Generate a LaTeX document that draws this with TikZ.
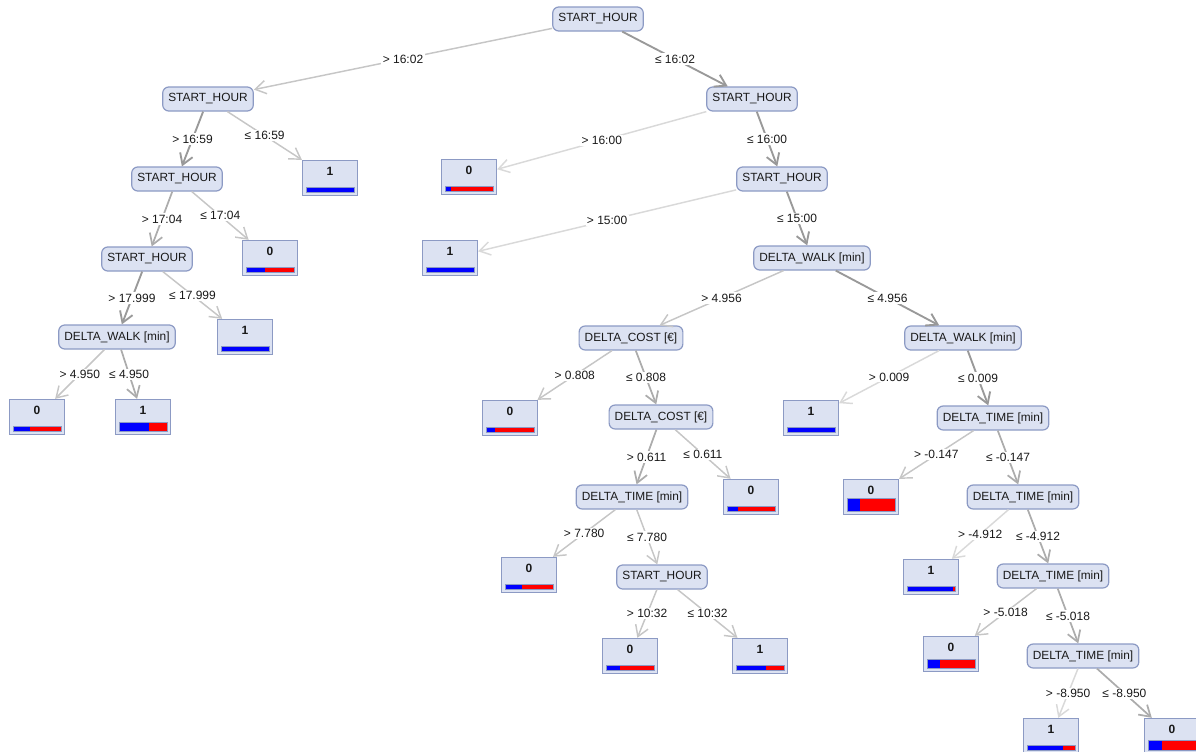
\documentclass[tikz,border=0pt]{standalone}
\usepackage{fontspec}
\setmainfont{Liberation Sans}
\usetikzlibrary{arrows.meta}
\definecolor{boxfill}{RGB}{220,226,242}
\definecolor{boxline}{RGB}{140,154,196}

\begin{document}
\begin{tikzpicture}[x=0.75pt, y=-0.75pt,
   split/.style={draw=boxline, fill=boxfill, rounded corners=4.5pt, line width=0.9pt,
      minimum height=18pt, inner xsep=4.2pt, text=black!90, font=\fontsize{8.9}{10}\selectfont},
   leaf/.style={draw=boxline, fill=boxfill, line width=1pt, minimum width=41.25pt,
      minimum height=26.25pt, text depth=10.5pt, text=black!90, font=\fontsize{9}{10}\selectfont\bfseries},
   bar/.style 2 args={path picture={
      \fill[red] ([shift={(2.6pt,2.4pt)}]path picture bounding box.south west) rectangle ++(36pt,#2);
      \fill[blue] ([shift={(2.6pt,2.4pt)}]path picture bounding box.south west) rectangle ++(#1*36pt,#2);
      \draw[line width=0.6pt] ([shift={(2.6pt,2.4pt)}]path picture bounding box.south west) rectangle ++(36pt,#2);}},
   elab/.style={fill=white, inner sep=1pt, text=black!90, font=\fontsize{9}{10}\selectfont},
   faint/.style={draw=gray!30, line width=1.1pt, -{Straight Barb[length=8pt,width=10pt]}},
   light/.style={draw=gray!45, line width=1.1pt, -{Straight Barb[length=8pt,width=10pt]}},
   mid/.style={draw=gray!65, line width=1.3pt, -{Straight Barb[length=8pt,width=10pt]}},
   dark/.style={draw=gray!80, line width=1.4pt, -{Straight Barb[length=8pt,width=10pt]}}]
   \useasboundingbox (0,0) rectangle (1196,751);

   % split nodes
   \node (s0) at (598,19) [split] {START\_HOUR};
   \node (s1) at (208,99) [split] {START\_HOUR};
   \node (s2) at (752,99) [split] {START\_HOUR};
   \node (s3) at (177,179) [split] {START\_HOUR};
   \node (s4) at (782,179) [split] {START\_HOUR};
   \node (s5) at (147,259) [split] {START\_HOUR};
   \node (s6) at (812,258) [split] {DELTA\_WALK [min]};
   \node (s7) at (117,337) [split] {DELTA\_WALK [min]};
   \node (s8) at (631,338) [split] {DELTA\_COST [€]};
   \node (s9) at (963,338) [split] {DELTA\_WALK [min]};
   \node (s10) at (661,417) [split] {DELTA\_COST [€]};
   \node (s11) at (993,418) [split] {DELTA\_TIME [min]};
   \node (s12) at (632,497) [split] {DELTA\_TIME [min]};
   \node (s13) at (1023,497) [split] {DELTA\_TIME [min]};
   \node (s14) at (662,577) [split] {START\_HOUR};
   \node (s15) at (1053,576) [split] {DELTA\_TIME [min]};
   \node (s16) at (1083,656) [split] {DELTA\_TIME [min]};

   % leaves
   \node (c1) at (330,178) [leaf, bar={1}{4pt}] {1};
   \node (c2) at (469,177) [leaf, bar={0.13}{4pt}] {0};
   \node (c3) at (270,258) [leaf, bar={0.40}{4pt}] {0};
   \node (c4) at (450,258) [leaf, bar={1}{4pt}] {1};
   \node (c5) at (245,337) [leaf, bar={1}{4pt}] {1};
   \node (c6) at (37,417) [leaf, bar={0.35}{4pt}] {0};
   \node (c7) at (143,417) [leaf, bar={0.63}{7pt}] {1};
   \node (c8) at (510,418) [leaf, bar={0.19}{4pt}] {0};
   \node (c9) at (811,418) [leaf, bar={1}{4pt}] {1};
   \node (c10) at (751,497) [leaf, bar={0.24}{4pt}] {0};
   \node (c11) at (871,497) [leaf, bar={0.27}{9.5pt}] {0};
   \node (c12) at (529,575) [leaf, bar={0.36}{4pt}] {0};
   \node (c13) at (931,577) [leaf, bar={0.96}{4pt}] {1};
   \node (c14) at (630,656) [leaf, bar={0.29}{4pt}] {0};
   \node (c15) at (760,656) [leaf, bar={0.63}{4pt}] {1};
   \node (c16) at (951,654) [leaf, bar={0.28}{6.75pt}] {0};
   \node (c17) at (1051,736) [leaf, bar={0.76}{4pt}] {1};
   \node (c18) at (1172,736) [leaf, bar={0.30}{7.5pt}] {0};

   % branches
   \draw[light] (s0) -- node[elab]{> 16:02} (s1);
   \draw[dark] (s0) -- node[elab]{≤ 16:02} (s2);
   \draw[dark] (s1) -- node[elab]{> 16:59} (s3);
   \draw[light] (s1) -- node[elab]{≤ 16:59} (c1);
   \draw[faint] (s2) -- node[elab]{> 16:00} (c2);
   \draw[dark] (s2) -- node[elab]{≤ 16:00} (s4);
   \draw[mid] (s3) -- node[elab]{> 17:04} (s5);
   \draw[light] (s3) -- node[elab]{≤ 17:04} (c3);
   \draw[faint] (s4) -- node[elab]{> 15:00} (c4);
   \draw[dark] (s4) -- node[elab]{≤ 15:00} (s6);
   \draw[dark] (s5) -- node[elab]{> 17.999} (s7);
   \draw[light] (s5) -- node[elab]{≤ 17.999} (c5);
   \draw[light] (s7) -- node[elab]{> 4.950} (c6);
   \draw[mid] (s7) -- node[elab]{≤ 4.950} (c7);
   \draw[light] (s6) -- node[elab]{> 4.956} (s8);
   \draw[dark] (s6) -- node[elab]{≤ 4.956} (s9);
   \draw[light] (s8) -- node[elab]{> 0.808} (c8);
   \draw[mid] (s8) -- node[elab]{≤ 0.808} (s10);
   \draw[faint] (s9) -- node[elab]{> 0.009} (c9);
   \draw[dark] (s9) -- node[elab]{≤ 0.009} (s11);
   \draw[mid] (s10) -- node[elab]{> 0.611} (s12);
   \draw[light] (s10) -- node[elab]{≤ 0.611} (c10);
   \draw[light] (s11) -- node[elab]{> -0.147} (c11);
   \draw[mid] (s11) -- node[elab]{≤ -0.147} (s13);
   \draw[light] (s12) -- node[elab]{> 7.780} (c12);
   \draw[light] (s12) -- node[elab]{≤ 7.780} (s14);
   \draw[faint] (s13) -- node[elab]{> -4.912} (c13);
   \draw[mid] (s13) -- node[elab]{≤ -4.912} (s15);
   \draw[light] (s14) -- node[elab]{> 10:32} (c14);
   \draw[light] (s14) -- node[elab]{≤ 10:32} (c15);
   \draw[light] (s15) -- node[elab]{> -5.018} (c16);
   \draw[mid] (s15) -- node[elab]{≤ -5.018} (s16);
   \draw[faint] (s16) -- node[elab]{> -8.950} (c17);
   \draw[mid] (s16) -- node[elab]{≤ -8.950} (c18);
\end{tikzpicture}
\end{document}
